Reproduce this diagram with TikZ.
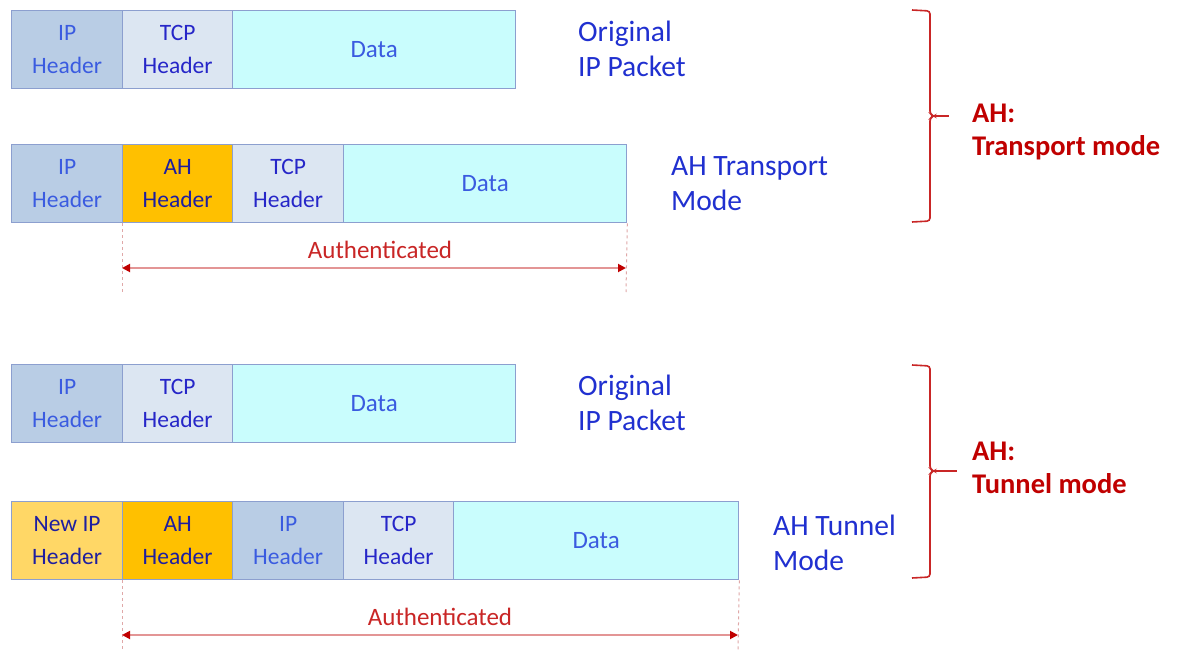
\documentclass[tikz,border=0pt]{standalone}
\usepackage{fontspec}
\setmainfont{Carlito}
\usetikzlibrary{arrows.meta}
\definecolor{ipfill}{HTML}{B9CDE5}
\definecolor{tcpfill}{HTML}{DCE6F2}
\definecolor{datafill}{HTML}{C9FDFD}
\definecolor{ahfill}{HTML}{FFC000}
\definecolor{newipfill}{HTML}{FFD766}
\definecolor{boxline}{HTML}{8C9FCF}
\definecolor{boxtext}{HTML}{2626C8}
\definecolor{iptext}{HTML}{3A5BE0}
\definecolor{lbltext}{HTML}{2030D0}
\definecolor{redtext}{HTML}{C00000}
\definecolor{authline}{HTML}{E39595}
\definecolor{authtip}{HTML}{C00000}
\definecolor{dashline}{HTML}{E0A8A8}
\tikzset{
  field/.style={draw=boxline, line width=1.3pt, anchor=north west, minimum height=78pt,
    inner sep=0pt, align=center, text=boxtext, font=\fontsize{23.5}{33}\selectfont},
  ipf/.style={field, fill=ipfill, text=iptext, minimum width=111pt},
  tcpf/.style={field, fill=tcpfill, minimum width=110pt},
  ahf/.style={field, fill=ahfill, text=boxtext!80!black, minimum width=110pt},
  newipf/.style={field, fill=newipfill, text=boxtext!80!black, minimum width=111pt},
  dataf/.style={field, fill=datafill, text=iptext, font=\fontsize{25}{30}\selectfont},
  sidelabel/.style={anchor=west, align=left, text=lbltext, inner sep=0pt,
    font=\fontsize{29.5}{35}\selectfont},
  modelabel/.style={anchor=west, align=left, text=redtext, inner sep=0pt,
    font=\bfseries\fontsize{28.5}{33}\selectfont},
  authtext/.style={text=redtext!85!white, inner sep=0pt, font=\fontsize{25}{28}\selectfont},
  authspan/.style={draw=authline, line width=1.8pt,
    {Triangle[color=authtip,length=8pt,width=8pt]}-{Triangle[color=authtip,length=8pt,width=8pt]}},
  guide/.style={draw=dashline, line width=1pt, dash pattern=on 3pt off 3pt},
  brace/.style={draw=redtext!85!white, line width=1.6pt, rounded corners=3pt}
}
\begin{document}
\begin{tikzpicture}[x=1pt,y=-1pt]
\useasboundingbox[fill=white] (0,0) rectangle (1179,650);

% --- Original IP packet (transport) ---
\node[ipf] (a1) at (11,10) {IP\\Header};
\node[tcpf] (a2) at (122,10) {TCP\\Header};
\node[dataf, minimum width=283pt] (a3) at (232,10) {Data};
\node[sidelabel] (la) at (578,49) {Original\\IP Packet};

% --- AH transport mode packet ---
\node[ipf] (b1) at (11,144) {IP\\Header};
\node[ahf] (b2) at (122,144) {AH\\Header};
\node[tcpf, minimum width=111pt] (b3) at (232,144) {TCP\\Header};
\node[dataf, minimum width=283pt] (b4) at (343,144) {Data};
\node[sidelabel] (lb) at (671,184) {AH Transport\\Mode};

% authenticated span (transport)
\coordinate (b2d) at (122,292);
\coordinate (b4d) at (626,292);
\draw[guide] (b2.south west) -- (b2d);
\draw[guide] (b4.south east) -- (b4d);
\draw[authspan] (122,268) -- (626,268);
\node[authtext] (ta) at (380,250) {Authenticated};

% brace: transport mode
\coordinate (t1) at (912,10);
\coordinate (t2) at (912,222);
\draw[brace] (t1) -- (930,11) -- (930,114) -- (934,116) -- (930,118) -- (930,221) -- (t2);
\draw[brace] (932,116) -- (949,116);
\node[modelabel] (ma) at (972,132) {AH:\\Transport mode};

% --- Original IP packet (tunnel) ---
\node[ipf] (c1) at (11,364) {IP\\Header};
\node[tcpf] (c2) at (122,364) {TCP\\Header};
\node[dataf, minimum width=283pt] (c3) at (232,364) {Data};
\node[sidelabel] (lc) at (578,403) {Original\\IP Packet};

% --- AH tunnel mode packet ---
\node[newipf] (d1) at (11,501) {New IP\\Header};
\node[ahf] (d2) at (122,501) {AH\\Header};
\node[ipf] (d3) at (232,501) {IP\\Header};
\node[tcpf] (d4) at (343,501) {TCP\\Header};
\node[dataf, minimum width=285pt] (d5) at (453,501) {Data};
\node[sidelabel] (ld) at (773,543) {AH Tunnel\\Mode};

% authenticated span (tunnel)
\coordinate (d2d) at (122,650);
\coordinate (d5d) at (738,650);
\draw[guide] (d2.south west) -- (d2d);
\draw[guide] (d5.south east) -- (d5d);
\draw[authspan] (122,635) -- (738,635);
\node[authtext] (tb) at (440,617) {Authenticated};

% brace: tunnel mode
\coordinate (u1) at (912,365);
\coordinate (u2) at (912,578);
\draw[brace] (u1) -- (930,366) -- (930,469) -- (934,471) -- (930,473) -- (930,577) -- (u2);
\draw[brace] (932,471) -- (957,471);
\node[modelabel] (mb) at (972,468) {AH:\\Tunnel mode};
\end{tikzpicture}
\end{document}
